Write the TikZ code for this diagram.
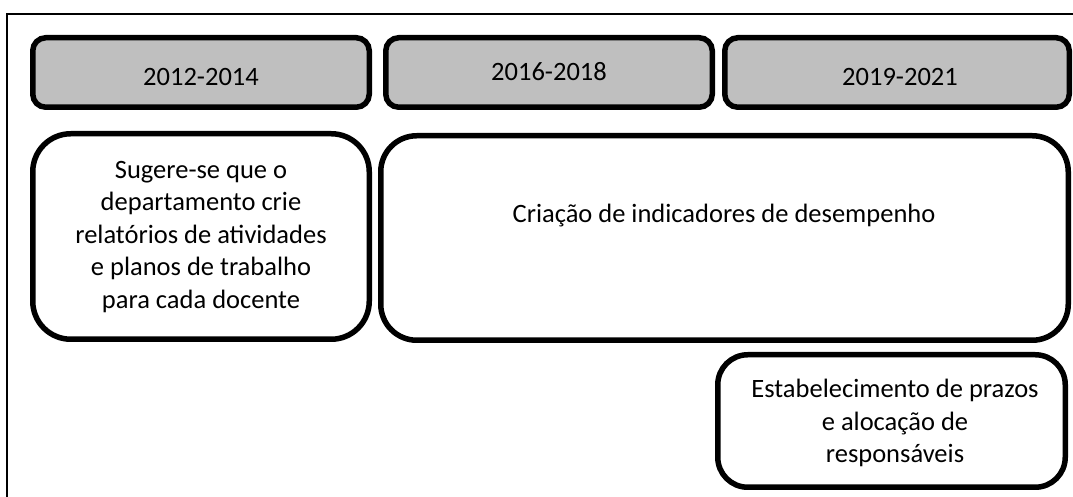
\documentclass[tikz,border=0pt]{standalone}
\usepackage{fontspec}
\setmainfont{Carlito}
\definecolor{hdrgray}{RGB}{191,191,191}
\begin{document}
\begin{tikzpicture}[x=1pt,y=1pt,
  hdr/.style={draw=black,line width=5.5pt,fill=hdrgray,rounded corners=13pt,inner sep=0pt,minimum height=69.5pt},
  content/.style={draw=black,line width=5.5pt,fill=white,inner sep=0pt},
  txt/.style={inner sep=0pt,align=center,font=\fontsize{26.5}{32.5}\selectfont},
  frame/.style={draw=black,line width=2pt}]
\useasboundingbox (0,0) rectangle (1073,497);
\coordinate (fb) at (7.3,0);
\coordinate (fc) at (7.3,483);
\coordinate (fr) at (1073,483);
\draw[frame] (fb) -- (fc) -- (fr);
% headers
\node[hdr,minimum width=336.5pt] (h1) at (201,424.5) {};
\node[hdr,minimum width=326.5pt] (h2) at (549,424.5) {};
\node[hdr,minimum width=344.5pt] (h3) at (897,424.5) {};
\node[txt] (t1) at (201,420) {2012-2014};
\node[txt] (t2) at (549,425) {2016-2018};
\node[txt] (t3) at (900,420) {2019-2021};
% content boxes
\node[content,rounded corners=38pt,minimum width=336.5pt,minimum height=205.5pt] (a) at (201,260.5) {};
\node[txt] (ta) at (201,260) {Sugere-se que o\\departamento crie\\relatórios de atividades\\e planos de trabalho\\para cada docente};
\node[content,rounded corners=36pt,minimum width=687.5pt,minimum height=204.5pt] (b) at (724.5,259) {};
\node[txt] (tb) at (724,281) {Criação de indicadores de desempenho};
\node[content,rounded corners=30pt,minimum width=347.5pt,minimum height=132.5pt] (c) at (891.5,76) {};
\node[txt] (tc) at (895,74) {Estabelecimento de prazos\\e alocação de\\responsáveis};
\end{tikzpicture}
\end{document}
